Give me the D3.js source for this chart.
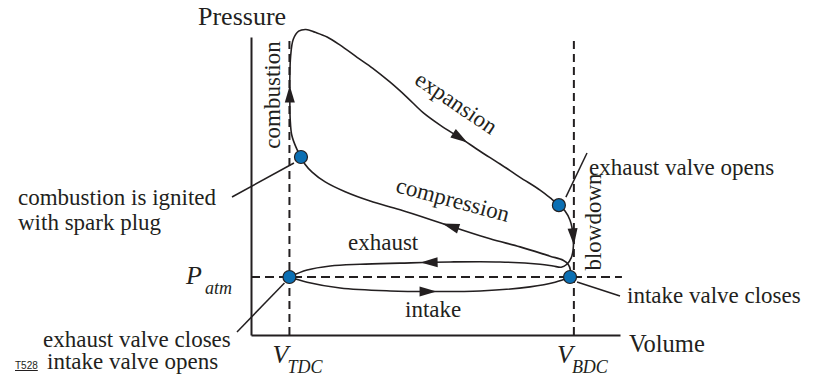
<!DOCTYPE html>
<html>
<head>
<meta charset="utf-8">
<script src="https://cdn.jsdelivr.net/npm/d3@7/dist/d3.min.js"></script>
<style>
  html, body { margin: 0; padding: 0; background: #ffffff; }
  svg { display: block; }
</style>
</head>
<body>
<script>
// Otto cycle pressure–volume diagram (schematic units: V_TDC = 1, P_atm = 1)

// key volumes and pressure
const keyVolumes = [{ name: "TDC", v: 1.0 }, { name: "BDC", v: 8.4 }];
const pAtm = 1.0;

// state points marked on the cycle
const statePoints = [
  { name: "ignition", v: 1.30, p: 3.07 },
  { name: "exhaustOpens", v: 8.01, p: 2.24 },
  { name: "tdc", v: 1.00, p: 1.00 },
  { name: "intakeCloses", v: 8.30, p: 1.00 }
];

// combustion + expansion stroke (ignition -> exhaust valve opens)
const combustionExpansion = [
  [1.30, 3.07], [1.17, 3.24], [1.06, 3.45], [1.02, 3.72], [1.01, 4.05], [1.01, 4.40],
  [1.03, 4.80], [1.10, 5.10], [1.24, 5.24], [1.43, 5.27], [1.67, 5.22], [1.98, 5.14],
  [2.32, 5.00], [2.76, 4.79], [3.17, 4.60], [3.62, 4.36], [4.06, 4.10], [4.47, 3.84],
  [4.92, 3.62], [5.44, 3.40], [5.96, 3.17], [6.48, 2.95], [7.00, 2.72], [7.52, 2.50],
  [7.83, 2.34], [8.01, 2.24]
];

// blowdown + exhaust stroke (exhaust valve opens -> TDC)
const blowdownExhaust = [
  [8.01, 2.24], [8.17, 2.14], [8.30, 1.98], [8.38, 1.72], [8.38, 1.47], [8.33, 1.33],
  [8.22, 1.22], [8.07, 1.17], [7.86, 1.19], [7.52, 1.22], [6.48, 1.26], [5.18, 1.26],
  [3.88, 1.24], [2.84, 1.22], [2.06, 1.19], [1.46, 1.12], [1.00, 1.00]
];

// intake stroke (TDC -> intake valve closes)
const intake = [
  [1.00, 1.00], [1.46, 0.91], [2.32, 0.81], [3.62, 0.76], [4.66, 0.75], [5.96, 0.76],
  [7.26, 0.83], [7.91, 0.91], [8.30, 1.00]
];

// compression stroke (intake valve closes -> ignition)
const compression = [
  [8.30, 1.00], [8.31, 1.12], [8.25, 1.22], [8.12, 1.29], [7.78, 1.36], [7.00, 1.52],
  [6.22, 1.66], [5.18, 1.88], [3.88, 2.16], [3.10, 2.31], [2.45, 2.47], [1.93, 2.64],
  [1.59, 2.81], [1.40, 2.95], [1.30, 3.07]
];

// direction arrows: which stroke and roughly where
const arrows = [
  { stroke: 0, v: 1.01, p: 4.16 },
  { stroke: 0, v: 5.44, p: 3.40 },
  { stroke: 1, v: 8.38, p: 1.69 },
  { stroke: 1, v: 4.63, p: 1.26 },
  { stroke: 2, v: 4.60, p: 0.76 },
  { stroke: 3, v: 5.20, p: 1.90 }
];

const W = 816, H = 379;
const ink = "#231f20";
const dotBlue = "#0b6fb3";
const serif = "'Liberation Serif', 'Times New Roman', Tinos, 'DejaVu Serif', serif";
const sans = "'Liberation Sans', Arial, 'DejaVu Sans', sans-serif";

const svg = d3.select("body").append("svg").attr("width", W).attr("height", H);

const x = d3.scaleLinear().domain([0, 9.6]).range([251, 620]);
const y = d3.scaleLinear().domain([0, 5.14]).range([335, 37]);

// axes (no ticks, just the lines)
const gx = svg.append("g").attr("transform", `translate(0,${y(0)})`)
  .call(d3.axisBottom(x).tickValues([]).tickSizeOuter(0));
const gy = svg.append("g").attr("transform", `translate(${x(0)},0)`)
  .call(d3.axisLeft(y).tickValues([]).tickSizeOuter(0));
[gx, gy].forEach(g => g.select(".domain").attr("stroke", ink).attr("stroke-width", 2));

// dashed reference lines
svg.selectAll("line.vref").data(keyVolumes).join("line")
  .attr("class", "vref")
  .attr("x1", d => x(d.v)).attr("x2", d => x(d.v))
  .attr("y1", y(0)).attr("y2", y(5.09))
  .attr("stroke", ink).attr("stroke-width", 2).attr("stroke-dasharray", "8,5");
svg.append("line")
  .attr("x1", x(0)).attr("x2", x(9.65))
  .attr("y1", y(pAtm)).attr("y2", y(pAtm))
  .attr("stroke", ink).attr("stroke-width", 2).attr("stroke-dasharray", "9,5");

// cycle strokes
const line = d3.line().x(d => x(d[0])).y(d => y(d[1])).curve(d3.curveCatmullRom.alpha(0.5));
const strokes = [combustionExpansion, blowdownExhaust, intake, compression];
const strokePaths = svg.selectAll("path.stroke").data(strokes).join("path")
  .attr("class", "stroke")
  .attr("d", line)
  .attr("fill", "none").attr("stroke", ink).attr("stroke-width", 1.6);

// arrowheads placed on the strokes, aligned with the direction of travel
const L = 17, hw = 5;
arrows.forEach(a => {
  const node = strokePaths.nodes()[a.stroke];
  const total = node.getTotalLength();
  const tx = x(a.v), ty = y(a.p);
  let best = 0, bestD = Infinity;
  for (let l = 0; l <= total; l += 0.5) {
    const pt = node.getPointAtLength(l);
    const dd = (pt.x - tx) ** 2 + (pt.y - ty) ** 2;
    if (dd < bestD) { bestD = dd; best = l; }
  }
  const p0 = node.getPointAtLength(Math.max(0, best - 3));
  const p1 = node.getPointAtLength(Math.min(total, best + 3));
  const c = node.getPointAtLength(best);
  const ang = Math.atan2(p1.y - p0.y, p1.x - p0.x) * 180 / Math.PI;
  svg.append("path")
    .attr("d", `M${L / 2},0L${-L / 2},${hw}L${-L / 2},${-hw}Z`)
    .attr("transform", `translate(${c.x},${c.y}) rotate(${ang})`)
    .attr("fill", ink);
});

// annotation leader lines
const leaders = [
  [[statePoints[0], -7, 6], [232, 197]],
  [[statePoints[1], 7, -8], [587, 153]],
  [[statePoints[3], 7, 5], [620, 296]],
  [[statePoints[2], -5, 6], [237, 332]]
];
leaders.forEach(([[pt, dx, dy], end]) => {
  svg.append("line")
    .attr("x1", x(pt.v) + dx).attr("y1", y(pt.p) + dy)
    .attr("x2", end[0]).attr("y2", end[1])
    .attr("stroke", ink).attr("stroke-width", 1.5);
});

// state point markers
svg.selectAll("circle.state").data(statePoints).join("circle")
  .attr("class", "state")
  .attr("cx", d => x(d.v)).attr("cy", d => y(d.p)).attr("r", 6.5)
  .attr("fill", dotBlue).attr("stroke", ink).attr("stroke-width", 1.2);

// text helper
function label(txt, px, py, opts = {}) {
  const t = svg.append("text").text(txt)
    .attr("font-family", serif)
    .attr("fill", ink)
    .attr("font-size", opts.size || 23);
  if (opts.anchor) t.attr("text-anchor", opts.anchor);
  if (opts.italic) t.attr("font-style", "italic");
  if (opts.rotate !== undefined) {
    t.attr("transform", `translate(${px},${py}) rotate(${opts.rotate})`);
  } else {
    t.attr("x", px).attr("y", py);
  }
  return t;
}

// axis titles
label("Pressure", 198, 25, { size: 26 });
label("Volume", 629, 352, { size: 24.5 });

// reference labels
keyVolumes.forEach(k => {
  label("V", x(k.v) - 17, 363, { size: 26, italic: true });
  label(k.name, x(k.v) - 2, 373, { size: 18, italic: true });
});
label("P", 186, 284, { size: 26, italic: true });
label("atm", 205, 294, { size: 18, italic: true });

// process labels
label("combustion", 280, 95, { rotate: -90, anchor: "middle" });
label("blowdown", 601, 222, { rotate: -90, anchor: "middle" });
label("expansion", 452, 109, { rotate: 34, anchor: "middle" });
label("compression", 451, 207, { rotate: 15, anchor: "middle" });
label("exhaust", 348, 250);
label("intake", 405, 317);

// event annotations
label("exhaust valve opens", 589, 175);
label("intake valve closes", 627, 303);
label("combustion is ignited", 18, 205);
label("with spark plug", 18, 230);
label("exhaust valve closes", 43, 347);
label("intake valve opens", 47, 369);

svg.append("text").attr("x", 15).attr("y", 369).text("T528")
  .attr("font-family", sans).attr("fill", ink)
  .attr("font-size", 10).attr("text-decoration", "underline");
</script>
</body>
</html>
